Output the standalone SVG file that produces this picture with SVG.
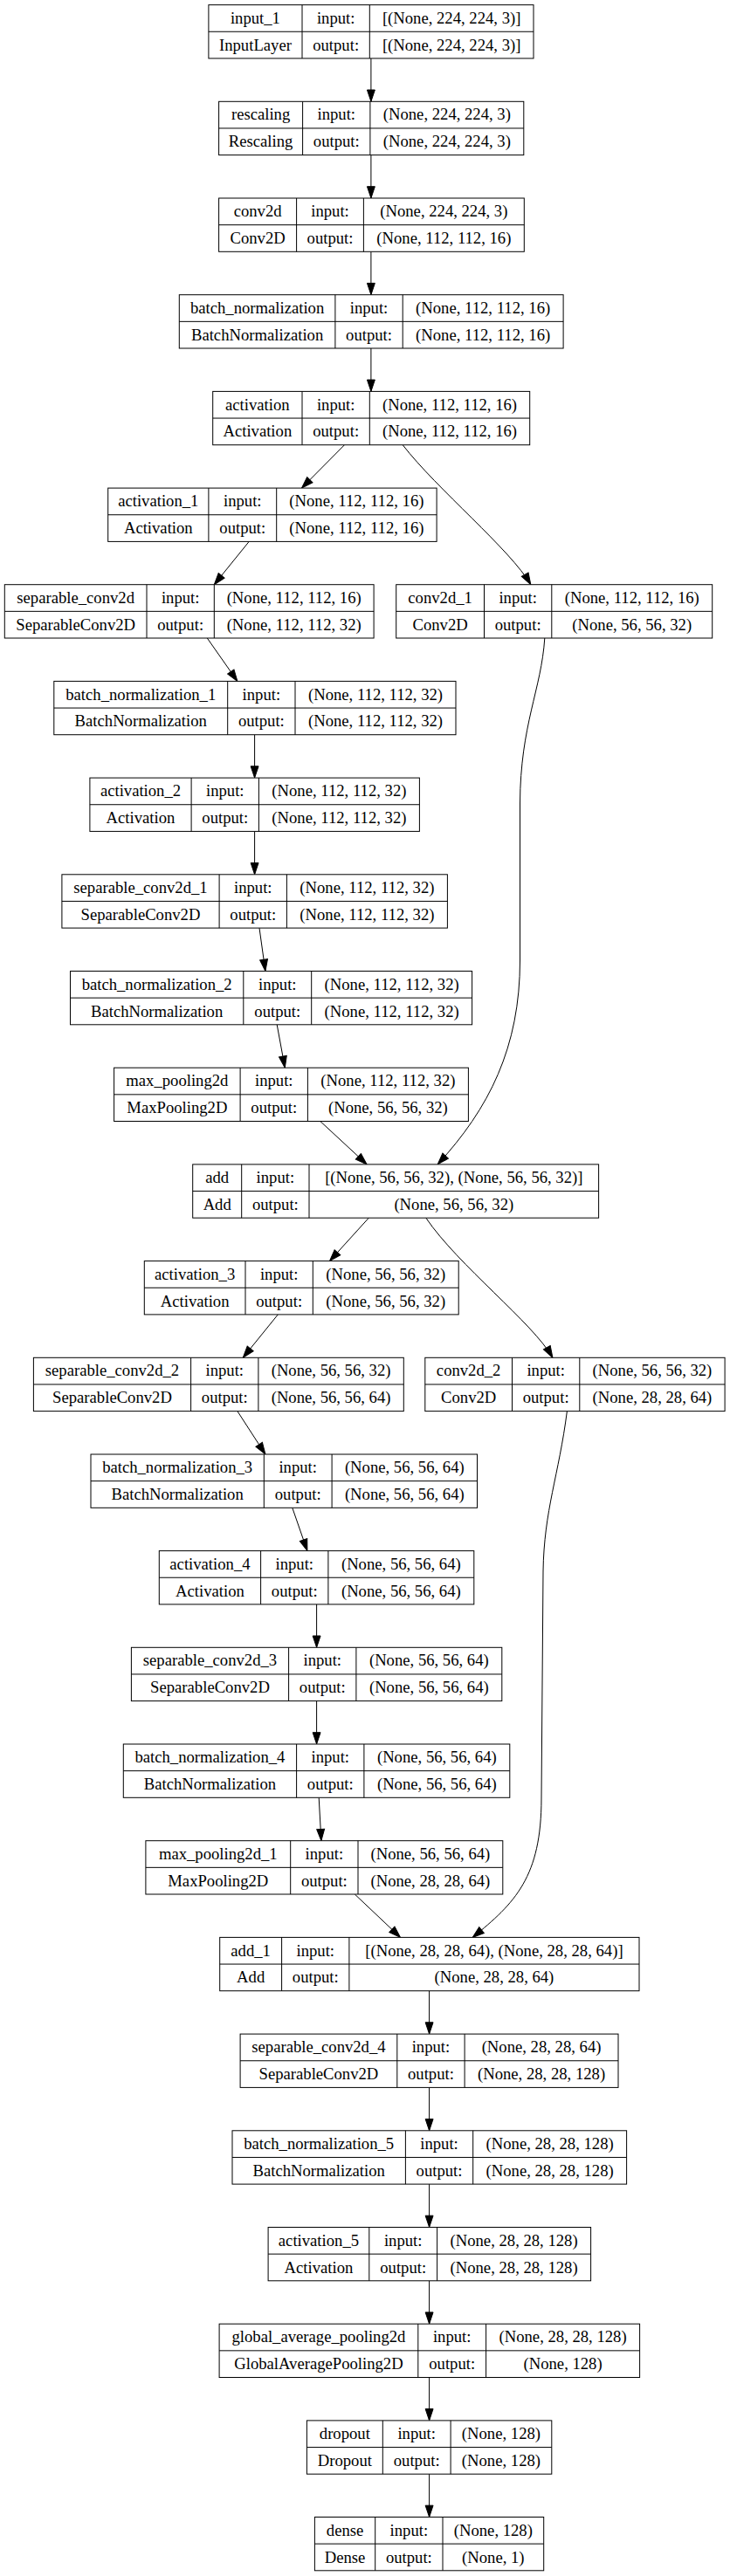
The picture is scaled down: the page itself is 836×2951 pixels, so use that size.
<svg xmlns="http://www.w3.org/2000/svg" width="836" height="2951" viewBox="0 0 836 2951">
<style>
.bg{fill:#fff}
.n rect{fill:#fff;stroke:#000;stroke-width:1}
.n path{fill:none;stroke:#000;stroke-width:1}
.n text{font-family:"Liberation Serif","Times New Roman",serif;font-size:18.67px;fill:#000;text-anchor:middle}
.e path{fill:none;stroke:#000;stroke-width:1}
</style>
<defs>
<marker id="ah" markerUnits="userSpaceOnUse" markerWidth="16" markerHeight="12" viewBox="0 0 16 12" refX="14.3" refY="5.45" orient="auto">
<path d="M1,1 L14.3,5.45 L1,9.9 Z" fill="#000" stroke="#000" stroke-width="1"/>
</marker>
</defs>
<rect class="bg" x="0" y="0" width="836" height="2951"/>
<g id="edges" class="e" marker-end="url(#ah)">
<path d="M424.9,66.9 L424.9,116.3" marker-end="url(#ah)"/>
<path d="M424.9,177.6 L424.9,227.0" marker-end="url(#ah)"/>
<path d="M424.9,288.3 L424.9,337.7" marker-end="url(#ah)"/>
<path d="M424.9,399.0 L424.9,448.4" marker-end="url(#ah)"/>
<path d="M394.5,509.7 L345.5,559.1" marker-end="url(#ah)"/>
<path d="M461.2,509.7 C500,560 585,630 607.8,669.7" marker-end="url(#ah)"/>
<path d="M285.2,620.4 L245.3,669.7" marker-end="url(#ah)"/>
<path d="M237.3,731.0 L271.9,780.4" marker-end="url(#ah)"/>
<path d="M623.8,731.0 C620,790 596,830 595.5,920 L595.5,1100 C595.5,1200 560,1270 501.2,1333.9" marker-end="url(#ah)"/>
<path d="M291.6,841.7 L291.6,891.1" marker-end="url(#ah)"/>
<path d="M291.6,952.4 L291.6,1001.8" marker-end="url(#ah)"/>
<path d="M297.0,1063.1 L303.9,1112.5" marker-end="url(#ah)"/>
<path d="M317.2,1173.8 L326.3,1223.2" marker-end="url(#ah)"/>
<path d="M366.8,1284.5 L420.1,1333.9" marker-end="url(#ah)"/>
<path d="M422.3,1395.2 L377.5,1444.6" marker-end="url(#ah)"/>
<path d="M487.8,1395.2 C525,1450 610,1515 632.9,1555.3" marker-end="url(#ah)"/>
<path d="M318.3,1505.9 L278.3,1555.3" marker-end="url(#ah)"/>
<path d="M271.9,1616.6 L303.9,1666.0" marker-end="url(#ah)"/>
<path d="M649.4,1616.6 C640,1690 623,1730 622,1800 L620,2060 C620,2150 590,2180 541.2,2219.4" marker-end="url(#ah)"/>
<path d="M334.8,1727.3 L351.9,1776.6" marker-end="url(#ah)"/>
<path d="M362.6,1837.9 L362.6,1887.3" marker-end="url(#ah)"/>
<path d="M362.6,1948.6 L362.6,1998.0" marker-end="url(#ah)"/>
<path d="M365.2,2059.3 L367.9,2108.7" marker-end="url(#ah)"/>
<path d="M406.3,2170.0 L458.5,2219.4" marker-end="url(#ah)"/>
<path d="M491.6,2280.7 L491.6,2330.1" marker-end="url(#ah)"/>
<path d="M491.6,2391.4 L491.6,2440.8" marker-end="url(#ah)"/>
<path d="M491.6,2502.1 L491.6,2551.5" marker-end="url(#ah)"/>
<path d="M491.6,2612.8 L491.6,2662.2" marker-end="url(#ah)"/>
<path d="M491.6,2723.5 L491.6,2772.9" marker-end="url(#ah)"/>
<path d="M491.6,2834.2 L491.6,2883.5" marker-end="url(#ah)"/>
</g>

<g id="input_1" class="n" transform="translate(0,5.6)">
<rect x="238.9" y="0" width="372.1" height="61.3"/>
<path d="M346.0,0 V61.3 M423.3,0 V61.3 M238.9,30.65 H611.0"/>
<text x="292.45" y="21.2">input_1</text><text x="384.65" y="21.2">input:</text><text x="517.15" y="21.2">[(None, 224, 224, 3)]</text>
<text x="292.45" y="52">InputLayer</text><text x="384.65" y="52">output:</text><text x="517.15" y="52">[(None, 224, 224, 3)]</text>
</g>

<g id="rescaling" class="n" transform="translate(0,116.3)">
<rect x="250.6" y="0" width="349.2" height="61.3"/>
<path d="M346.6,0 V61.3 M423.9,0 V61.3 M250.6,30.65 H599.8"/>
<text x="298.6" y="21.2">rescaling</text><text x="385.25" y="21.2">input:</text><text x="511.85" y="21.2">(None, 224, 224, 3)</text>
<text x="298.6" y="52">Rescaling</text><text x="385.25" y="52">output:</text><text x="511.85" y="52">(None, 224, 224, 3)</text>
</g>

<g id="conv2d" class="n" transform="translate(0,227.0)">
<rect x="250.6" y="0" width="349.7" height="61.3"/>
<path d="M339.6,0 V61.3 M416.4,0 V61.3 M250.6,30.65 H600.3"/>
<text x="295.1" y="21.2">conv2d</text><text x="378.0" y="21.2">input:</text><text x="508.35" y="21.2">(None, 224, 224, 3)</text>
<text x="295.1" y="52">Conv2D</text><text x="378.0" y="52">output:</text><text x="508.35" y="52">(None, 112, 112, 16)</text>
</g>

<g id="batch_normalization" class="n" transform="translate(0,337.7)">
<rect x="205.3" y="0" width="439.8" height="61.3"/>
<path d="M383.9,0 V61.3 M461.2,0 V61.3 M205.3,30.65 H645.1"/>
<text x="294.6" y="21.2">batch_normalization</text><text x="422.55" y="21.2">input:</text><text x="553.15" y="21.2">(None, 112, 112, 16)</text>
<text x="294.6" y="52">BatchNormalization</text><text x="422.55" y="52">output:</text><text x="553.15" y="52">(None, 112, 112, 16)</text>
</g>

<g id="activation" class="n" transform="translate(0,448.4)">
<rect x="243.7" y="0" width="363.0" height="61.3"/>
<path d="M346.0,0 V61.3 M423.3,0 V61.3 M243.7,30.65 H606.7"/>
<text x="294.85" y="21.2">activation</text><text x="384.65" y="21.2">input:</text><text x="515.0" y="21.2">(None, 112, 112, 16)</text>
<text x="294.85" y="52">Activation</text><text x="384.65" y="52">output:</text><text x="515.0" y="52">(None, 112, 112, 16)</text>
</g>

<g id="activation_1" class="n" transform="translate(0,559.1)">
<rect x="123.7" y="0" width="376.4" height="61.3"/>
<path d="M238.9,0 V61.3 M316.7,0 V61.3 M123.7,30.65 H500.1"/>
<text x="181.3" y="21.2">activation_1</text><text x="277.8" y="21.2">input:</text><text x="408.4" y="21.2">(None, 112, 112, 16)</text>
<text x="181.3" y="52">Activation</text><text x="277.8" y="52">output:</text><text x="408.4" y="52">(None, 112, 112, 16)</text>
</g>

<g id="separable_conv2d" class="n" transform="translate(0,669.7)">
<rect x="5.3" y="0" width="422.8" height="61.3"/>
<path d="M168.0,0 V61.3 M245.3,0 V61.3 M5.3,30.65 H428.1"/>
<text x="86.65" y="21.2">separable_conv2d</text><text x="206.65" y="21.2">input:</text><text x="336.7" y="21.2">(None, 112, 112, 16)</text>
<text x="86.65" y="52">SeparableConv2D</text><text x="206.65" y="52">output:</text><text x="336.7" y="52">(None, 112, 112, 32)</text>
</g>

<g id="conv2d_1" class="n" transform="translate(0,669.7)">
<rect x="453.7" y="0" width="362.0" height="61.3"/>
<path d="M554.5,0 V61.3 M631.8,0 V61.3 M453.7,30.65 H815.7"/>
<text x="504.1" y="21.2">conv2d_1</text><text x="593.15" y="21.2">input:</text><text x="723.75" y="21.2">(None, 112, 112, 16)</text>
<text x="504.1" y="52">Conv2D</text><text x="593.15" y="52">output:</text><text x="723.75" y="52">(None, 56, 56, 32)</text>
</g>

<g id="batch_normalization_1" class="n" transform="translate(0,780.4)">
<rect x="61.8" y="0" width="460.2" height="61.3"/>
<path d="M260.7,0 V61.3 M338.0,0 V61.3 M61.8,30.65 H522.0"/>
<text x="161.25" y="21.2">batch_normalization_1</text><text x="299.35" y="21.2">input:</text><text x="430.0" y="21.2">(None, 112, 112, 32)</text>
<text x="161.25" y="52">BatchNormalization</text><text x="299.35" y="52">output:</text><text x="430.0" y="52">(None, 112, 112, 32)</text>
</g>

<g id="activation_2" class="n" transform="translate(0,891.1)">
<rect x="102.9" y="0" width="377.5" height="61.3"/>
<path d="M219.1,0 V61.3 M296.4,0 V61.3 M102.9,30.65 H480.4"/>
<text x="161.0" y="21.2">activation_2</text><text x="257.75" y="21.2">input:</text><text x="388.4" y="21.2">(None, 112, 112, 32)</text>
<text x="161.0" y="52">Activation</text><text x="257.75" y="52">output:</text><text x="388.4" y="52">(None, 112, 112, 32)</text>
</g>

<g id="separable_conv2d_1" class="n" transform="translate(0,1001.8)">
<rect x="70.9" y="0" width="441.5" height="61.3"/>
<path d="M251.1,0 V61.3 M328.4,0 V61.3 M70.9,30.65 H512.4"/>
<text x="161.0" y="21.2">separable_conv2d_1</text><text x="289.75" y="21.2">input:</text><text x="420.4" y="21.2">(None, 112, 112, 32)</text>
<text x="161.0" y="52">SeparableConv2D</text><text x="289.75" y="52">output:</text><text x="420.4" y="52">(None, 112, 112, 32)</text>
</g>

<g id="batch_normalization_2" class="n" transform="translate(0,1112.5)">
<rect x="80.5" y="0" width="460.1" height="61.3"/>
<path d="M278.8,0 V61.3 M356.7,0 V61.3 M80.5,30.65 H540.6"/>
<text x="179.65" y="21.2">batch_normalization_2</text><text x="317.75" y="21.2">input:</text><text x="448.65" y="21.2">(None, 112, 112, 32)</text>
<text x="179.65" y="52">BatchNormalization</text><text x="317.75" y="52">output:</text><text x="448.65" y="52">(None, 112, 112, 32)</text>
</g>

<g id="max_pooling2d" class="n" transform="translate(0,1223.2)">
<rect x="130.6" y="0" width="405.8" height="61.3"/>
<path d="M275.1,0 V61.3 M352.4,0 V61.3 M130.6,30.65 H536.4"/>
<text x="202.85" y="21.2">max_pooling2d</text><text x="313.75" y="21.2">input:</text><text x="444.4" y="21.2">(None, 112, 112, 32)</text>
<text x="202.85" y="52">MaxPooling2D</text><text x="313.75" y="52">output:</text><text x="444.4" y="52">(None, 56, 56, 32)</text>
</g>

<g id="add" class="n" transform="translate(0,1333.9)">
<rect x="220.7" y="0" width="464.9" height="61.3"/>
<path d="M276.7,0 V61.3 M354.0,0 V61.3 M220.7,30.65 H685.6"/>
<text x="248.7" y="21.2">add</text><text x="315.35" y="21.2">input:</text><text x="519.8" y="21.2">[(None, 56, 56, 32), (None, 56, 56, 32)]</text>
<text x="248.7" y="52">Add</text><text x="315.35" y="52">output:</text><text x="519.8" y="52">(None, 56, 56, 32)</text>
</g>

<g id="activation_3" class="n" transform="translate(0,1444.6)">
<rect x="165.3" y="0" width="359.9" height="61.3"/>
<path d="M281.0,0 V61.3 M358.3,0 V61.3 M165.3,30.65 H525.2"/>
<text x="223.15" y="21.2">activation_3</text><text x="319.65" y="21.2">input:</text><text x="441.75" y="21.2">(None, 56, 56, 32)</text>
<text x="223.15" y="52">Activation</text><text x="319.65" y="52">output:</text><text x="441.75" y="52">(None, 56, 56, 32)</text>
</g>

<g id="separable_conv2d_2" class="n" transform="translate(0,1555.3)">
<rect x="38.4" y="0" width="423.9" height="61.3"/>
<path d="M218.6,0 V61.3 M295.9,0 V61.3 M38.4,30.65 H462.3"/>
<text x="128.5" y="21.2">separable_conv2d_2</text><text x="257.25" y="21.2">input:</text><text x="379.1" y="21.2">(None, 56, 56, 32)</text>
<text x="128.5" y="52">SeparableConv2D</text><text x="257.25" y="52">output:</text><text x="379.1" y="52">(None, 56, 56, 64)</text>
</g>

<g id="conv2d_2" class="n" transform="translate(0,1555.3)">
<rect x="486.8" y="0" width="343.3" height="61.3"/>
<path d="M586.5,0 V61.3 M663.8,0 V61.3 M486.8,30.65 H830.1"/>
<text x="536.65" y="21.2">conv2d_2</text><text x="625.15" y="21.2">input:</text><text x="746.95" y="21.2">(None, 56, 56, 32)</text>
<text x="536.65" y="52">Conv2D</text><text x="625.15" y="52">output:</text><text x="746.95" y="52">(None, 28, 28, 64)</text>
</g>

<g id="batch_normalization_3" class="n" transform="translate(0,1666.0)">
<rect x="104.0" y="0" width="442.5" height="61.3"/>
<path d="M302.3,0 V61.3 M380.1,0 V61.3 M104.0,30.65 H546.5"/>
<text x="203.15" y="21.2">batch_normalization_3</text><text x="341.2" y="21.2">input:</text><text x="463.3" y="21.2">(None, 56, 56, 64)</text>
<text x="203.15" y="52">BatchNormalization</text><text x="341.2" y="52">output:</text><text x="463.3" y="52">(None, 56, 56, 64)</text>
</g>

<g id="activation_4" class="n" transform="translate(0,1776.6)">
<rect x="182.3" y="0" width="360.5" height="61.3"/>
<path d="M298.6,0 V61.3 M375.9,0 V61.3 M182.3,30.65 H542.8"/>
<text x="240.45" y="21.2">activation_4</text><text x="337.25" y="21.2">input:</text><text x="459.35" y="21.2">(None, 56, 56, 64)</text>
<text x="240.45" y="52">Activation</text><text x="337.25" y="52">output:</text><text x="459.35" y="52">(None, 56, 56, 64)</text>
</g>

<g id="separable_conv2d_3" class="n" transform="translate(0,1887.3)">
<rect x="150.4" y="0" width="424.4" height="61.3"/>
<path d="M330.6,0 V61.3 M407.9,0 V61.3 M150.4,30.65 H574.8"/>
<text x="240.5" y="21.2">separable_conv2d_3</text><text x="369.25" y="21.2">input:</text><text x="491.35" y="21.2">(None, 56, 56, 64)</text>
<text x="240.5" y="52">SeparableConv2D</text><text x="369.25" y="52">output:</text><text x="491.35" y="52">(None, 56, 56, 64)</text>
</g>

<g id="batch_normalization_4" class="n" transform="translate(0,1998.0)">
<rect x="141.3" y="0" width="442.5" height="61.3"/>
<path d="M339.6,0 V61.3 M416.9,0 V61.3 M141.3,30.65 H583.8"/>
<text x="240.45" y="21.2">batch_normalization_4</text><text x="378.25" y="21.2">input:</text><text x="500.35" y="21.2">(None, 56, 56, 64)</text>
<text x="240.45" y="52">BatchNormalization</text><text x="378.25" y="52">output:</text><text x="500.35" y="52">(None, 56, 56, 64)</text>
</g>

<g id="max_pooling2d_1" class="n" transform="translate(0,2108.7)">
<rect x="166.9" y="0" width="408.9" height="61.3"/>
<path d="M332.7,0 V61.3 M410.0,0 V61.3 M166.9,30.65 H575.8"/>
<text x="249.8" y="21.2">max_pooling2d_1</text><text x="371.35" y="21.2">input:</text><text x="492.9" y="21.2">(None, 56, 56, 64)</text>
<text x="249.8" y="52">MaxPooling2D</text><text x="371.35" y="52">output:</text><text x="492.9" y="52">(None, 28, 28, 64)</text>
</g>

<g id="add_1" class="n" transform="translate(0,2219.4)">
<rect x="251.7" y="0" width="480.3" height="61.3"/>
<path d="M322.6,0 V61.3 M399.9,0 V61.3 M251.7,30.65 H732.0"/>
<text x="287.15" y="21.2">add_1</text><text x="361.25" y="21.2">input:</text><text x="565.95" y="21.2">[(None, 28, 28, 64), (None, 28, 28, 64)]</text>
<text x="287.15" y="52">Add</text><text x="361.25" y="52">output:</text><text x="565.95" y="52">(None, 28, 28, 64)</text>
</g>

<g id="separable_conv2d_4" class="n" transform="translate(0,2330.1)">
<rect x="275.1" y="0" width="432.9" height="61.3"/>
<path d="M454.8,0 V61.3 M532.1,0 V61.3 M275.1,30.65 H708.0"/>
<text x="364.95" y="21.2">separable_conv2d_4</text><text x="493.45" y="21.2">input:</text><text x="620.05" y="21.2">(None, 28, 28, 64)</text>
<text x="364.95" y="52">SeparableConv2D</text><text x="493.45" y="52">output:</text><text x="620.05" y="52">(None, 28, 28, 128)</text>
</g>

<g id="batch_normalization_5" class="n" transform="translate(0,2440.8)">
<rect x="266.0" y="0" width="451.6" height="61.3"/>
<path d="M464.4,0 V61.3 M541.7,0 V61.3 M266.0,30.65 H717.6"/>
<text x="365.2" y="21.2">batch_normalization_5</text><text x="503.05" y="21.2">input:</text><text x="629.65" y="21.2">(None, 28, 28, 128)</text>
<text x="365.2" y="52">BatchNormalization</text><text x="503.05" y="52">output:</text><text x="629.65" y="52">(None, 28, 28, 128)</text>
</g>

<g id="activation_5" class="n" transform="translate(0,2551.5)">
<rect x="307.1" y="0" width="369.5" height="61.3"/>
<path d="M422.8,0 V61.3 M500.6,0 V61.3 M307.1,30.65 H676.6"/>
<text x="364.95" y="21.2">activation_5</text><text x="461.7" y="21.2">input:</text><text x="588.6" y="21.2">(None, 28, 28, 128)</text>
<text x="364.95" y="52">Activation</text><text x="461.7" y="52">output:</text><text x="588.6" y="52">(None, 28, 28, 128)</text>
</g>

<g id="global_average_pooling2d" class="n" transform="translate(0,2662.2)">
<rect x="251.1" y="0" width="481.5" height="61.3"/>
<path d="M478.8,0 V61.3 M556.6,0 V61.3 M251.1,30.65 H732.6"/>
<text x="364.95" y="21.2">global_average_pooling2d</text><text x="517.7" y="21.2">input:</text><text x="644.6" y="21.2">(None, 28, 28, 128)</text>
<text x="364.95" y="52">GlobalAveragePooling2D</text><text x="517.7" y="52">output:</text><text x="644.6" y="52">(None, 128)</text>
</g>

<g id="dropout" class="n" transform="translate(0,2772.9)">
<rect x="351.4" y="0" width="280.4" height="61.3"/>
<path d="M438.3,0 V61.3 M516.1,0 V61.3 M351.4,30.65 H631.8"/>
<text x="394.85" y="21.2">dropout</text><text x="477.2" y="21.2">input:</text><text x="573.95" y="21.2">(None, 128)</text>
<text x="394.85" y="52">Dropout</text><text x="477.2" y="52">output:</text><text x="573.95" y="52">(None, 128)</text>
</g>

<g id="dense" class="n" transform="translate(0,2883.5)">
<rect x="360.4" y="0" width="262.3" height="61.3"/>
<path d="M429.7,0 V61.3 M507.0,0 V61.3 M360.4,30.65 H622.7"/>
<text x="395.05" y="21.2">dense</text><text x="468.35" y="21.2">input:</text><text x="564.85" y="21.2">(None, 128)</text>
<text x="395.05" y="52">Dense</text><text x="468.35" y="52">output:</text><text x="564.85" y="52">(None, 1)</text>
</g>
</svg>
